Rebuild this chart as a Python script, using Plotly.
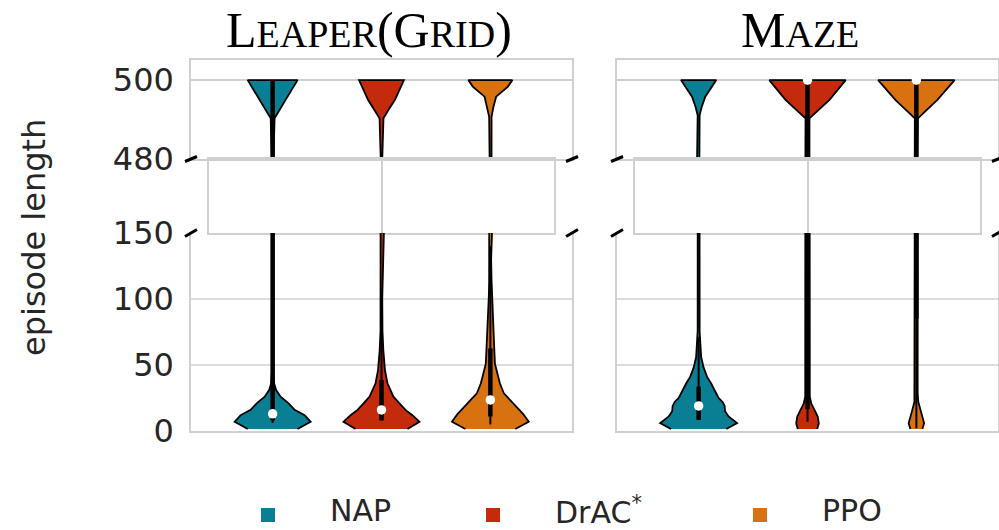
import plotly.graph_objects as go

W, H = 999, 530

methods = ["NAP", "DrAC*", "PPO"]
colors = ["#0a7f93", "#c42a0c", "#d8710f"]
env_titles = ["L<span style='font-size:38px'>EAPER</span>(G<span style='font-size:38px'>RID</span>)",
              "M<span style='font-size:38px'>AZE</span>"]

# ---- violin profiles: episode length vs. half width (category units) ----
leaper_nap_len = [1.5, 7, 12, 16, 21, 26, 31, 36, 45, 480, 490.3, 495, 500]
leaper_nap_hw = [0.229, 0.349, 0.294, 0.202, 0.147, 0.073, 0.032, 0.014, 0.007, 0.007, 0.018, 0.119, 0.229]

leaper_drac_len = [1.5, 7, 12, 16, 21, 26, 36, 46, 61, 76, 100, 480, 490.3, 492.4, 495, 500]
leaper_drac_hw = [0.239, 0.349, 0.284, 0.220, 0.165, 0.110, 0.055, 0.032, 0.017, 0.009, 0.007, 0.007, 0.018, 0.063, 0.124, 0.206]

leaper_ppo_len = [1.5, 7, 13, 21, 28.5, 36, 44, 51, 64, 76.5, 89, 102, 114, 130, 480, 490.7, 493.2, 495.8, 498.3, 500]
leaper_ppo_hw = [0.229, 0.353, 0.300, 0.205, 0.124, 0.088, 0.063, 0.042, 0.035, 0.028, 0.021, 0.014, 0.011, 0.007, 0.007, 0.011, 0.028, 0.053, 0.159, 0.202]

maze_nap_len = [1.5, 6, 11, 15, 19, 22, 25, 31, 36, 41, 48, 56, 66, 76, 480, 491.1, 493.2, 495.8, 500]
maze_nap_hw = [0.254, 0.353, 0.275, 0.243, 0.239, 0.220, 0.183, 0.147, 0.115, 0.078, 0.046, 0.023, 0.014, 0.009, 0.007, 0.009, 0.028, 0.061, 0.162]

maze_drac_len = [1.5, 5.8, 10.9, 16, 21, 26, 480, 490.3, 495, 500]
maze_drac_hw = [0.089, 0.104, 0.094, 0.064, 0.034, 0.021, 0.018, 0.018, 0.202, 0.351]

maze_ppo_len = [1.5, 5.8, 10.9, 16, 22, 28.5, 480, 490.3, 495, 500]
maze_ppo_hw = [0.055, 0.071, 0.055, 0.037, 0.018, 0.012, 0.009, 0.014, 0.193, 0.351]

# ---- inner box statistics (NAP, DrAC*, PPO) ----
leaper_q1 = [8, 8, 11]
leaper_med = [13, 16, 23.5]
leaper_q3 = [500, 38.6, 62.6]
leaper_wlo = [6, 8, 5]
leaper_whi = [500, 85, 140]

maze_q1 = [8.3, 16.5, 85]
maze_med = [19, 500, 500]
maze_q3 = [33.6, 500, 500]
maze_wlo = [8.3, 7, 2]
maze_whi = [71, 500, 500]

profiles = [
    [(leaper_nap_len, leaper_nap_hw), (leaper_drac_len, leaper_drac_hw), (leaper_ppo_len, leaper_ppo_hw)],
    [(maze_nap_len, maze_nap_hw), (maze_drac_len, maze_drac_hw), (maze_ppo_len, maze_ppo_hw)],
]
stats = [
    (leaper_q1, leaper_med, leaper_q3, leaper_wlo, leaper_whi),
    (maze_q1, maze_med, maze_q3, maze_wlo, maze_whi),
]

top_ticks = [480, 500]
bottom_ticks = [0, 50, 100, 150]
bottom_grid = [50, 100]

# ---- layout geometry (pixels) ----
col_x = [(191, 572), (617, 998)]
gap_inset = 18
top_y = (60, 159)
gap_y = (159, 233)
bot_y = (233, 431)

def px(x):
    return x / W

def py(y):
    return 1 - y / H

fig = go.Figure()

GRID = "#d0d0d0"
TXT = "#262626"
TICKFONT = dict(family="DejaVu Sans", size=32, color=TXT)

for e in range(2):
    ax_top, ax_gap, ax_bot = 3 * e + 1, 3 * e + 2, 3 * e + 3
    q1, med, q3, wlo, whi = stats[e]
    # empty trace so that the break panel is drawn
    fig.add_trace(go.Scatter(x=[None], y=[None], xaxis=f"x{ax_gap}", yaxis=f"y{ax_gap}",
                             showlegend=False, hoverinfo="skip"))
    for i in range(3):
        lens, hw = profiles[e][i]
        xs = [i + h for h in hw] + [i - h for h in reversed(hw)]
        ys = list(lens) + list(reversed(lens))
        for ax in (ax_top, ax_bot):
            xa = "x" if ax == 1 else f"x{ax}"
            ya = "y" if ax == 1 else f"y{ax}"
            fig.add_trace(go.Scatter(x=xs, y=ys, fill="toself", fillcolor=colors[i],
                                     mode="lines", line=dict(color="black", width=1.8),
                                     xaxis=xa, yaxis=ya, showlegend=False, hoverinfo="skip"))
            fig.add_trace(go.Scatter(x=[i, i], y=[wlo[i], whi[i]], mode="lines",
                                     line=dict(color="black", width=2),
                                     xaxis=xa, yaxis=ya, showlegend=False, hoverinfo="skip"))
            fig.add_trace(go.Scatter(x=[i, i], y=[q1[i], q3[i]], mode="lines",
                                     line=dict(color="black", width=4.5),
                                     xaxis=xa, yaxis=ya, showlegend=False, hoverinfo="skip"))
            fig.add_trace(go.Scatter(x=[i], y=[med[i]], mode="markers",
                                     marker=dict(color="white", size=9.5, line=dict(width=0)),
                                     xaxis=xa, yaxis=ya, showlegend=False, hoverinfo="skip"))

layout = dict(width=W, height=H, margin=dict(l=0, r=0, t=0, b=0, autoexpand=False),
              plot_bgcolor="white", paper_bgcolor="white", showlegend=False)

for e in range(2):
    x0, x1 = col_x[e]
    for k, (yy, kind) in enumerate([(top_y, "top"), (gap_y, "gap"), (bot_y, "bot")]):
        n = 3 * e + k + 1
        xname = "xaxis" if n == 1 else f"xaxis{n}"
        yname = "yaxis" if n == 1 else f"yaxis{n}"
        if kind == "gap":
            dom = [px(x0 + gap_inset), px(x1 - gap_inset)]
        else:
            dom = [px(x0), px(x1)]
        ydom = [py(yy[1]), py(yy[0])]
        xa = dict(domain=dom, range=[-0.75, 2.75], showticklabels=False, zeroline=False,
                  showline=True, linecolor=GRID, linewidth=1.5, ticks="",
                  anchor=("y" if n == 1 else f"y{n}"))
        ya = dict(domain=ydom, zeroline=False, showline=True, linecolor=GRID, linewidth=1.5,
                  mirror=True, anchor=("x" if n == 1 else f"x{n}"), tickfont=TICKFONT,
                  ticks="outside", ticklen=9, tickcolor="rgba(0,0,0,0)")
        if kind == "top":
            xa.update(mirror=True, showgrid=False)
            ya.update(range=[480, 505.1], tickvals=top_ticks, showgrid=True, gridcolor=GRID, gridwidth=1.5)
        elif kind == "gap":
            xa.update(mirror=True, showgrid=True, gridcolor=GRID, gridwidth=1.5, tickvals=[1])
            ya.update(range=[0, 1], showticklabels=False, showgrid=False, ticks="")
        else:
            xa.update(mirror=False, showgrid=False)
            ya.update(range=[0, 150], tickvals=bottom_ticks, showgrid=False)
        if e == 1:
            ya.update(showticklabels=False)
        layout[xname] = xa
        layout[yname] = ya

fig.update_layout(**layout)

# gridlines of the lower panels (not at the broken edge)
for e in range(2):
    n = 3 * e + 3
    for g in bottom_grid:
        fig.add_shape(type="line", xref=f"x{n} domain", yref=f"y{n}", x0=0, x1=1, y0=g, y1=g,
                      line=dict(color=GRID, width=1.5), layer="below")

# break marks
for e in range(2):
    for xe in col_x[e]:
        for yb, d in ((top_y[1], 2.5), (bot_y[0], 3.5)):
            fig.add_shape(type="line", xref="paper", yref="paper",
                          x0=px(xe - 6), x1=px(xe + 6), y0=py(yb + d), y1=py(yb - d),
                          line=dict(color="black", width=3))

# titles
for e, cx in enumerate([369, 800]):
    fig.add_annotation(x=px(cx), y=py(30), xref="paper", yref="paper", text=env_titles[e],
                       showarrow=False, font=dict(family="Liberation Serif", size=50, color="black"),
                       xanchor="center", yanchor="middle")

# y-axis title
fig.add_annotation(x=px(34), y=py(238), xref="paper", yref="paper", text="episode length",
                   textangle=-90, showarrow=False,
                   font=dict(family="DejaVu Sans", size=32, color=TXT),
                   xanchor="center", yanchor="middle")

# legend
leg_sq = [268, 493, 760]
leg_tx = [328, 553, 820]
leg_labels = ["NAP", "DrAC<sup>*</sup>", "PPO"]
for i in range(3):
    fig.add_shape(type="rect", xref="paper", yref="paper",
                  x0=px(leg_sq[i] - 7), x1=px(leg_sq[i] + 7), y0=py(522), y1=py(508),
                  fillcolor=colors[i], line=dict(width=0))
    fig.add_annotation(x=px(leg_tx[i]), y=py(510), xref="paper", yref="paper", text=leg_labels[i],
                       showarrow=False, xanchor="left", yanchor="middle",
                       font=dict(family="DejaVu Sans", size=30, color=TXT))

fig.write_html("out.html", config={"displayModeBar": False},
               post_script="document.body.style.margin='0px';")
